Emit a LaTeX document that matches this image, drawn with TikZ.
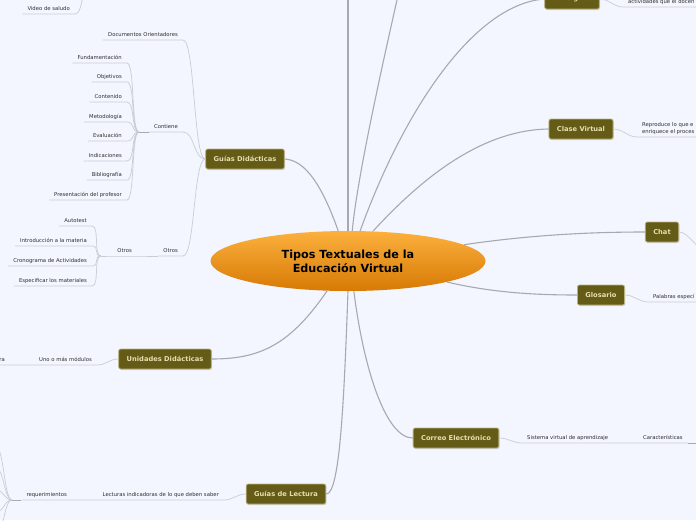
\documentclass[tikz,border=0pt]{standalone}
\usepackage{fontspec}
\setmainfont{DejaVu Sans}
\usetikzlibrary{
  shapes.geometric,
  shadows
}
\definecolor{paper}{RGB}{243,246,254}
\definecolor{topic}{RGB}{99,91,22}
\definecolor{topicrim}{RGB}{186,178,128}
\definecolor{topictext}{RGB}{230,222,176}
\definecolor{branchgray}{RGB}{168,169,174}
\definecolor{twiggray}{RGB}{202,204,212}
\definecolor{leafink}{RGB}{45,45,45}
\definecolor{orangetop}{RGB}{252,176,62}
\definecolor{orangebot}{RGB}{214,122,4}

\begin{document}
\begin{tikzpicture}[
  x=1pt, y=-1pt,
  every node/.style={font=\fontsize{5.3}{6.8}\selectfont, text=leafink},
  central/.style={ellipse, minimum width=275pt, minimum height=60pt, inner sep=0pt,
                  top color=orangetop, bottom color=orangebot, align=center,
                  font=\fontsize{11.2}{14}\selectfont\bfseries, text=black},
  topic/.style={draw=topicrim, fill=topic, rounded corners=2pt, line width=0.8pt,
                minimum height=20pt, inner xsep=8pt,
                font=\fontsize{6.7}{8}\selectfont\bfseries, text=topictext,
                drop shadow={opacity=0.25, shadow xshift=0.8pt, shadow yshift=-1pt}},
  leaf/.style={inner xsep=5pt, inner ysep=2pt, text height=4pt, text depth=1.3pt},
  branch/.style={draw=branchgray, line width=1.1pt},
  twig/.style={draw=twiggray, line width=0.7pt},
  toleft/.style={out=180, in=0, distance=#1},
  toleft/.default=9pt,
  toright/.style={out=0, in=180, distance=#1},
  toright/.default=9pt
]
\useasboundingbox (0,0) rectangle (696,520);
\clip (0,0) rectangle (696,520);
\fill[paper] (0,0) rectangle (696,520);

% centre and main topics
\node[central] (c) at (348,261) {Tipos Textuales de la\\Educación Virtual};
\node[topic] (gd) at (245,159) {Guías Didácticas};
\node[topic] (ud) at (165,359) {Unidades Didácticas};
\node[topic] (gl) at (286,494) {Guías de Lectura};
\node[topic] (ce) at (456,438) {Correo Electrónico};
\node[topic] (gs) at (601,295) {Glosario};
\node[topic] (ch) at (662,232) {Chat};
\node[topic] (cv) at (581,129) {Clase Virtual};
\node[topic] (cs) at (572,-1) {Consignas};
\coordinate (top1) at (348,-40);
\coordinate (top2) at (406,-40);

\draw[branch] (c.north) -- (top1);
\draw[branch] (c.82) .. controls (358,170) and (388,40) .. (top2);
\draw[branch] (c.108) .. controls (322,185) and (305,160) .. (gd.east);
\draw[branch] (c.68) .. controls (400,120) and (470,5) .. (cs.west);
\draw[branch] (c.50) .. controls (420,180) and (480,130) .. (cv.west);
\draw[branch] (c.8) .. controls (530,235) and (590,232) .. (ch.west);
\draw[branch] (c.-12) .. controls (490,292) and (530,295) .. (gs.west);
\draw[branch] (c.-79) .. controls (363,365) and (385,438) .. (ce.west);
\draw[branch] (c.south) .. controls (344,400) and (340,494) .. (gl.east);
\draw[branch] (c.235) .. controls (290,345) and (260,359) .. (ud.east);

% Guias Didacticas
\node[leaf, anchor=south east] (docs) at (183,40) {Documentos Orientadores};
\node[leaf, anchor=south east] (cont) at (183,132) {Contiene};
\node[leaf, anchor=south east] (otr) at (183,256) {Otros};
\foreach \n in {docs,cont,otr}
  \draw[twig] (gd.west) to[toleft=12pt] (\n.south east) -- (\n.south west);

\coordinate (cj) at (139,132);
\draw[twig, draw=branchgray] (cont.south west) -- (cj);
\foreach \n/\txt/\y in {fun/Fundamentación/63, obj/Objetivos/82, con/Contenido/102,
    met/Metodología/122, eva/Evaluación/141, ind/Indicaciones/161,
    bib/Bibliografía/180, pre/Presentación del profesor/200} {
  \node[leaf, anchor=south east] (\n) at (127,\y) {\txt};
  \draw[twig] (cj) to[toleft=8pt] (\n.south east) -- (\n.south west);
}

\node[leaf, anchor=south east] (otr2) at (137,256) {Otros};
\coordinate (oj) at (101,256);
\draw[twig] (otr.south west) -- (otr2.south east) -- (otr2.south west) -- (oj);
\foreach \n/\txt/\y in {aut/Autotest/226, intro/Introducción a la materia/246,
    cro/Cronograma de Actividades/266, esp/Especificar los materiales/286} {
  \node[leaf, anchor=south east] (\n) at (92,\y) {\txt};
  \draw[twig] (oj) to[toleft=8pt] (\n.south east) -- (\n.south west);
}

% Video de saludo
\node[leaf, anchor=south east] (vid) at (75,14) {Video de saludo};
\coordinate (vidp) at (92,-30);
\draw[twig] (vidp) to[toleft=10pt] (vid.south east) -- (vid.south west);

% Unidades Didacticas
\node[leaf, anchor=south east] (mod) at (97,365) {Uno o más módulos};
\node[leaf, anchor=south east] (modx) at (10,365) {ra};
\draw[twig] (ud.west) to[toleft=9pt] (mod.south east) -- (mod.south west)
  -- (modx.south east) -- (modx.south west);

% Guias de Lectura
\node[leaf, anchor=south east] (lec) at (224,500) {Lecturas indicadoras de lo que deben saber};
\node[leaf, anchor=south east] (req) at (72,500) {requerimientos};
\coordinate (rj) at (12,500);
\draw[twig] (gl.west) to[toleft=9pt] (lec.south east) -- (lec.south west)
  -- (req.south east) -- (req.south west);
\draw[twig, draw=branchgray] (req.south west) -- (rj);
\foreach \i/\y in {1/447, 2/468, 3/490, 4/512, 5/534} {
  \coordinate (rq\i) at (-4,\y);
  \draw[twig] (rj) to[toleft=8pt] (rq\i);
}

% Correo Electronico
\node[leaf, anchor=south west] (sva) at (522,443) {Sistema virtual de aprendizaje};
\node[leaf, anchor=south west] (car) at (638,443) {Características};
\coordinate (carx) at (700,443);
\draw[twig] (ce.east) to[toright] (sva.south west) -- (sva.south east)
  -- (car.south west) -- (car.south east);
\draw[twig, draw=branchgray] (car.south east) -- (carx);

% Glosario
\node[leaf, anchor=south west] (pal) at (648,302) {Palabras especí};
\coordinate (palx) at (700,302);
\draw[twig] (gs.east) to[toright] (pal.south west) -- (pal.south east) -- (palx);

% Chat
\coordinate (chx) at (708,252);
\draw[twig] (ch.east) to[toright=10pt] (chx);

% Clase Virtual
\node[anchor=south west, inner xsep=5pt, inner ysep=2pt, align=left] (rep) at (637,137)
  {Reproduce lo que e\\enriquece el proces};
\coordinate (repx) at (700,137);
\draw[twig] (cv.east) to[toright] (rep.south west) -- (rep.south east) -- (repx);

% Consignas
\node[leaf, anchor=south west] (act) at (623,7) {actividades que el docen};
\coordinate (actx) at (700,7);
\draw[twig] (cs.east) to[toright] (act.south west) -- (act.south east) -- (actx);

\end{tikzpicture}
\end{document}
